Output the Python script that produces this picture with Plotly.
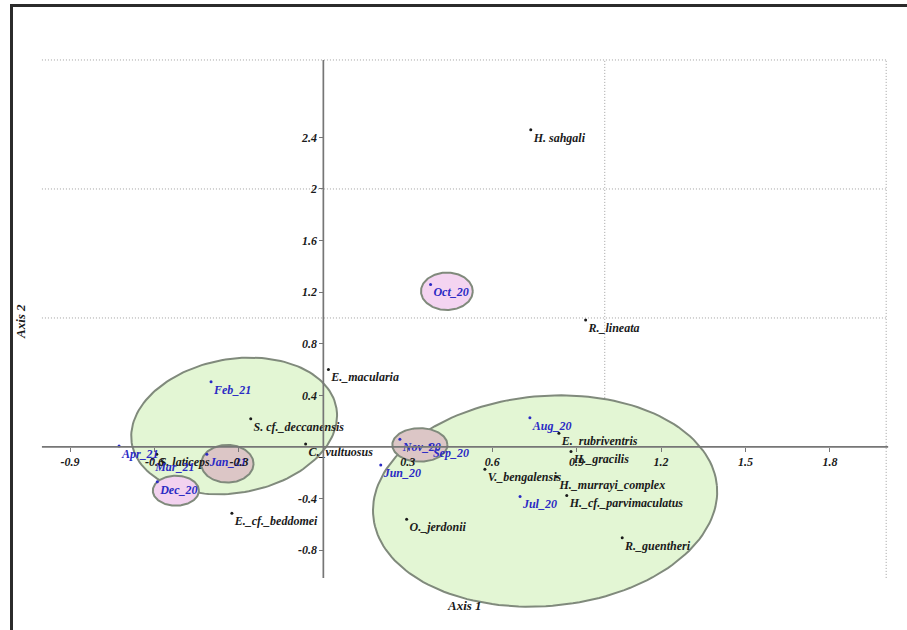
import numpy as np
import plotly.graph_objects as go

# ---- ordination scores -------------------------------------------------
species = ["H. sahgali", "R._lineata", "E._macularia", "S. cf._deccanensis",
           "C._vultuosus", "S. laticeps", "E._cf._beddomei", "O._jerdonii",
           "V._bengalensis", "E._rubriventris", "H._gracilis",
           "H._murrayi_complex", "H._cf._parvimaculatus", "R._guentheri"]
species_x = [0.737, 0.932, 0.018, -0.258, -0.063, -0.592, -0.325, 0.296,
             0.574, 0.837, 0.880, 0.829, 0.865, 1.062]
species_y = [2.46, 0.985, 0.60, 0.219, 0.023, -0.056, -0.514, -0.56,
             -0.173, 0.106, -0.036, -0.23, -0.377, -0.703]

months = ["Oct_20", "Feb_21", "Apr_21", "Mar_21", "Dec_20", "Jan_21",
          "Nov_20", "Sep_20", "Jun_20", "Aug_20", "Jul_20"]
months_x = [0.381, -0.399, -0.726, -0.608, -0.590, -0.414,
            0.272, 0.379, 0.204, 0.734, 0.699]
months_y = [1.26, 0.506, 0.008, -0.093, -0.27, -0.057,
            0.06, 0.016, -0.14, 0.227, -0.385]

x_tickvals = [-0.9, -0.6, -0.3, 0.3, 0.6, 0.9, 1.2, 1.5, 1.8]
x_ticktext = ["-0.9", "-0.6", "-0.3", "0.3", "0.6", "0.9", "1.2", "1.5", "1.8"]
y_tickvals = [-0.8, -0.4, 0.4, 0.8, 1.2, 1.6, 2.0, 2.4]
y_ticktext = ["-0.8", "-0.4", "0.4", "0.8", "1.2", "1.6", "2", "2.4"]

# ---- layout geometry ---------------------------------------------------
W, H = 907, 630
XR = [-1.149, 2.074]
YR = [-1.419, 3.465]
AX_X = [-1.0, 2.007]      # extent of the horizontal axis line
AX_Y = [-1.015, 3.0]      # extent of the vertical axis line
kx = W / (XR[1] - XR[0])  # px per x unit
ky = H / (YR[1] - YR[0])  # px per y unit

FONT = "Liberation Serif, Times New Roman, serif"
BLUE = "#2a2ac4"
INK = "#1a1a1a"
GRID = dict(color="#a0a0a0", width=1, dash="1px,2px")


def ellipse(cx, cy, rx, ry, tilt_deg, n=160):
    """Outline of a tilted ellipse; rx/ry in data units, tilt on screen."""
    t = np.linspace(0, 2 * np.pi, n)
    th = np.radians(tilt_deg)
    A, B = rx * kx, ry * ky
    u = A * np.cos(t) * np.cos(th) - B * np.sin(t) * np.sin(th)
    v = A * np.cos(t) * np.sin(th) + B * np.sin(t) * np.cos(th)
    return cx + u / kx, cy + v / ky


# group envelopes: centre x, centre y, half-width, half-height, tilt, fill
groups = [
    (-0.317, 0.163, 0.369, 0.519, 10, "#e3f6d4"),
    (0.788, -0.419, 0.613, 0.814, 5, "#e3f6d4"),
]
month_rings = [
    (0.439, 1.207, 0.092, 0.145, 0, "#f4d4f1"),
    (-0.341, -0.130, 0.093, 0.146, 0, "#dcc6c6"),
    (-0.524, -0.339, 0.082, 0.116, 0, "#f2d2ef"),
    (0.343, 0.016, 0.098, 0.130, 0, "#dcc6c6"),
]

fig = go.Figure()

for cx, cy, rx, ry, tilt, fill in groups + month_rings:
    ex, ey = ellipse(cx, cy, rx, ry, tilt)
    fig.add_trace(go.Scatter(
        x=ex, y=ey, mode="lines", fill="toself", fillcolor=fill,
        line=dict(color="#808a7c", width=2), hoverinfo="skip",
        showlegend=False))

fig.add_trace(go.Scatter(
    x=species_x, y=species_y, text=species, mode="markers+text",
    textposition="bottom right",
    marker=dict(size=3, color=INK),
    textfont=dict(family=FONT, size=12, color=INK, weight="bold",
                  style="italic"),
    showlegend=False))

fig.add_trace(go.Scatter(
    x=months_x, y=months_y, text=months, mode="markers+text",
    textposition="bottom right",
    marker=dict(size=3, color=BLUE),
    textfont=dict(family=FONT, size=12, color=BLUE, weight="bold",
                  style="italic"),
    showlegend=False))

shapes = []
# dotted grid at whole units
for gy in [1, 2, 3]:
    shapes.append(dict(type="line", xref="x", yref="y", x0=AX_X[0], x1=2.0,
                       y0=gy, y1=gy, line=GRID, layer="below"))
for gx in [1, 2]:
    shapes.append(dict(type="line", xref="x", yref="y", x0=gx, x1=gx,
                       y0=AX_Y[0], y1=AX_Y[1], line=GRID, layer="below"))
# axis lines crossing at the origin
shapes.append(dict(type="line", xref="x", yref="y", x0=AX_X[0], x1=AX_X[1],
                   y0=0, y1=0, line=dict(color="#767676", width=1.7)))
shapes.append(dict(type="line", xref="x", yref="y", x0=0, x1=0,
                   y0=AX_Y[0], y1=AX_Y[1],
                   line=dict(color="#767676", width=1.7)))
# outer frame
shapes.append(dict(type="rect", xref="paper", yref="paper",
                   x0=11.5 / W, x1=1.02, y0=-0.02, y1=1 - 5.5 / H,
                   line=dict(color="#2b2b2b", width=3)))

tickfont = dict(family=FONT, size=12, color=INK, weight="bold", style="italic")
titlefont = dict(family=FONT, size=13, color=INK, weight="bold",
                 style="italic")

fig.update_layout(
    width=W, height=H,
    margin=dict(l=0, r=0, t=0, b=0),
    paper_bgcolor="white", plot_bgcolor="white",
    shapes=shapes,
    xaxis=dict(range=XR, domain=[0, 1], anchor="free",
               position=(0 - YR[0]) / (YR[1] - YR[0]),
               showgrid=False, zeroline=False, showline=False,
               tickvals=x_tickvals, ticktext=x_ticktext,
               ticks="outside", ticklen=4, tickcolor="#767676",
               tickfont=tickfont, fixedrange=True),
    yaxis=dict(range=YR, domain=[0, 1], anchor="free",
               position=(0 - XR[0]) / (XR[1] - XR[0]),
               showgrid=False, zeroline=False, showline=False,
               tickvals=y_tickvals, ticktext=y_ticktext,
               ticks="outside", ticklen=4, tickcolor="#767676",
               tickfont=tickfont, fixedrange=True),
    annotations=[
        dict(text="Axis 1", xref="paper", yref="paper",
             x=464 / W, y=1 - 605 / H, xanchor="center", yanchor="middle",
             showarrow=False, font=titlefont),
        dict(text="Axis 2", xref="paper", yref="paper",
             x=20 / W, y=1 - 322 / H, xanchor="center", yanchor="middle",
             showarrow=False, textangle=-90, font=titlefont),
    ],
)

fig.write_html("out.html")
